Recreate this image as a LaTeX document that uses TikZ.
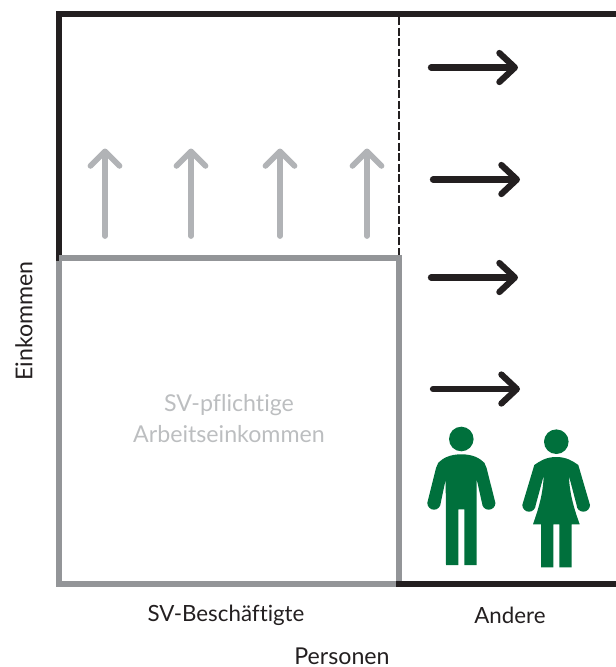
\documentclass[tikz,border=0pt]{standalone}
\usepackage{fontspec}
\setmainfont[Ligatures=NoCommon]{Lato}
\usetikzlibrary{arrows.meta}
\definecolor{framecol}{HTML}{231F20}
\definecolor{boxcol}{HTML}{939598}
\definecolor{upcol}{HTML}{B1B3B6}
\definecolor{labelcol}{HTML}{BCBEC0}
\definecolor{personcol}{HTML}{00703C}

\begin{document}
\begin{tikzpicture}[
        x=0.02cm, y=-0.02cm,
        every node/.style={font=\fontsize{12.7}{15}\selectfont, text=framecol, inner sep=0pt},
        biglabel/.style={font=\fontsize{13.2}{15}\selectfont},
        frameline/.style={draw=framecol, line width=0.12cm, line cap=butt},
        boxline/.style={draw=boxcol, line width=0.12cm, line cap=butt},
        uparrow/.style={draw=upcol, line width=0.115cm, line cap=round, -{Straight Barb[round, length=0.29cm, width=0.58cm]}},
        rightarrow/.style={draw=framecol, line width=0.125cm, line cap=round, -{Straight Barb[round, length=0.31cm, width=0.58cm]}}]

        \useasboundingbox (0,0) rectangle (616,667);

        \coordinate (topleft) at (59,14);
        \coordinate (topright) at (616,14);
        \coordinate (midleft) at (59,258);
        \coordinate (midsplit) at (399,258);
        \coordinate (topsplit) at (399,17);
        \coordinate (botleft) at (59,584);
        \coordinate (botsplit) at (399,584);
        \coordinate (botright) at (616,584);

        \draw[draw=framecol, line width=0.026cm, dash pattern=on 0.16cm off 0.05cm] (topsplit) -- (midsplit);
        \draw[frameline] (midleft) -- ++(0,3) -- (topleft) -- (topright);
        \draw[boxline, line join=miter] (midsplit) -- (midleft);
        \draw[boxline] (59,261) -- (botleft) -- (botsplit) -- (midsplit) -- ++(0,-3);
        \draw[frameline] (396,584) -- (botright);

        \foreach \i/\x in {1/105, 2/191, 3/280, 4/367} {
            \coordinate (upa\i) at (\x,236);
            \coordinate (upb\i) at (\x,148.5);
            \draw[uparrow] (upa\i) -- (upb\i);
        }

        \foreach \i/\x/\y in {1/431/67.5, 2/433/179.5, 3/431/277.5, 4/433/389} {
            \coordinate (righta\i) at (\x,\y);
            \coordinate (rightb\i) at (\x+87,\y);
            \draw[rightarrow] (righta\i) -- (rightb\i);
        }

        \node[biglabel, text=labelcol] (pflichtig) at (229,405) {SV-pflichtige};
        \node[biglabel, text=labelcol] (arbeit) at (229,434) {Arbeitseinkommen};
        \node (besch) at (226,615) {SV-Beschäftigte};
        \node (andere) at (510,615) {Andere};
        \node[biglabel] (personen) at (342,656) {Personen};
        \node[biglabel, rotate=90] (einkommen) at (24,321) {Einkommen};

        % man
        \fill[personcol] (461.3,439) circle (12.3);
        \fill[personcol] (461.3,454.3) .. controls (450,454.3) and (443,458) .. (438.3,462.7)
            -- (436,468) -- (427.3,503) arc[start angle=180, end angle=360, x radius=6.7, y radius=-6.7]
            -- (445.7,479.3) -- (446,565) -- (458.3,565) -- (458.3,509.3) -- (464.3,509.3)
            -- (464.3,565) -- (476.7,565) -- (476.7,479.3) -- (482,503)
            arc[start angle=180, end angle=360, x radius=6.7, y radius=-6.7]
            -- (486.6,468) -- (484.3,462.7) .. controls (479.6,458) and (472.6,454.3) .. cycle;

        % woman
        \fill[personcol] (556.3,441.7) circle (12.3);
        \fill[personcol] (556.3,457) .. controls (546,457) and (540,461) .. (534.3,465)
            -- (522.3,505) arc[start angle=180, end angle=360, x radius=6.7, y radius=-6.7]
            -- (543.7,475.7) .. controls (543,495) and (538,510) .. (533,524.3)
            -- (541,524.3) -- (541,567.3) -- (553.3,567.3) -- (553.3,524.3) -- (559.3,524.3)
            -- (559.3,567.3) -- (571.7,567.3) -- (571.7,524.3) -- (579.7,524.3)
            .. controls (574.6,510) and (569.6,495) .. (568.9,475.7)
            -- (576.6,505) arc[start angle=180, end angle=360, x radius=6.7, y radius=-6.7]
            -- (578.3,465) .. controls (572.6,461) and (566.6,457) .. cycle;

    \end{tikzpicture}
\end{document}
